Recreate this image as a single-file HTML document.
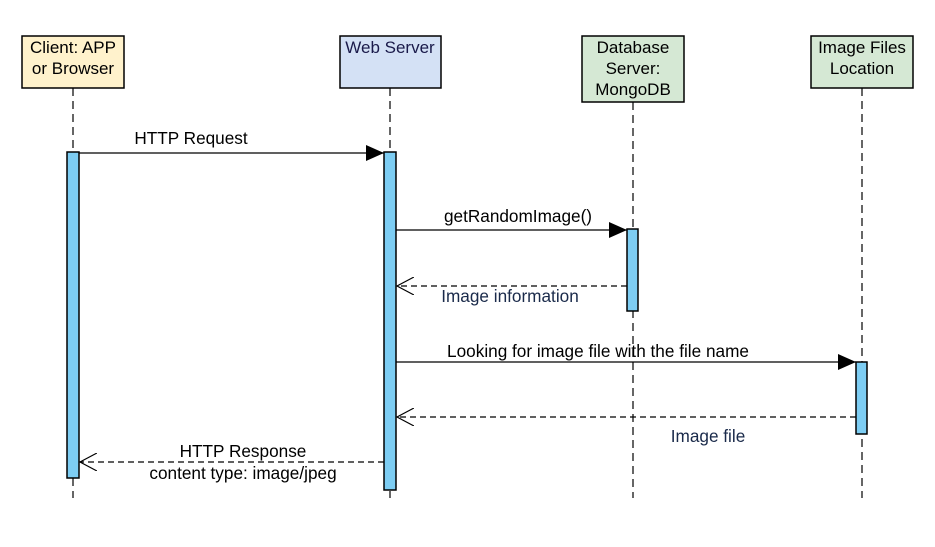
<!DOCTYPE html>
<html><head><meta charset="utf-8"><style>
html,body{margin:0;padding:0;background:#fff;width:935px;height:547px;overflow:hidden}
</style></head><body>
<svg width="935" height="547" xmlns="http://www.w3.org/2000/svg" font-family="Liberation Sans, Arial, sans-serif" font-size="17">
<defs>
<marker id="f" markerWidth="20" markerHeight="16" refX="18" refY="8" orient="auto" markerUnits="userSpaceOnUse"><path d="M0,0 L18,8 L0,16 Z" fill="#000"/></marker>
<marker id="o" markerWidth="20" markerHeight="18" refX="17" refY="9" orient="auto" markerUnits="userSpaceOnUse"><path d="M0,0 L17,9 L0,18" fill="none" stroke="#000" stroke-width="1.2"/></marker>
</defs>
<g stroke="#333" stroke-width="1.5" stroke-dasharray="8,5" fill="none">
<line x1="73" y1="88" x2="73" y2="498"/>
<line x1="390" y1="88" x2="390" y2="498"/>
<line x1="633" y1="102" x2="633" y2="498"/>
<line x1="862" y1="88" x2="862" y2="498"/>
</g>
<g stroke="#000" stroke-width="1.5">
<rect x="22" y="36" width="102" height="52" fill="#fff2cc"/>
<rect x="340" y="36" width="101" height="52" fill="#d4e1f5"/>
<rect x="582" y="36" width="102" height="66" fill="#d5e8d4"/>
<rect x="811" y="36" width="102" height="52" fill="#d5e8d4"/>
</g>
<g text-anchor="middle" fill="#000">
<text x="73" y="53">Client: APP</text><text x="73" y="74">or Browser</text>
<text x="390" y="53" fill="#1a1a4a">Web Server</text>
<text x="633" y="53">Database</text><text x="633" y="74">Server:</text><text x="633" y="95">MongoDB</text>
<text x="862" y="53">Image Files</text><text x="862" y="74">Location</text>
</g>
<g stroke="#000" stroke-width="1.5" fill="#7dcdf3">
<rect x="67" y="152" width="12" height="326"/>
<rect x="384" y="152" width="12" height="338"/>
<rect x="627" y="229" width="11" height="82"/>
<rect x="856" y="362" width="11" height="72"/>
</g>
<g stroke="#000" stroke-width="1.3" fill="none">
<line x1="79" y1="153" x2="384" y2="153" marker-end="url(#f)"/>
<line x1="396" y1="230" x2="627" y2="230" marker-end="url(#f)"/>
<line x1="396" y1="362" x2="856" y2="362" marker-end="url(#f)"/>
<line x1="627" y1="286" x2="397" y2="286" stroke-dasharray="6,4" marker-end="url(#o)"/>
<line x1="856" y1="417" x2="397" y2="417" stroke-dasharray="6,4" marker-end="url(#o)"/>
<line x1="384" y1="462" x2="80" y2="462" stroke-dasharray="6,4" marker-end="url(#o)"/>
</g>
<g text-anchor="middle" fill="#000" font-size="17.2">
<text x="191" y="144">HTTP Request</text>
<text x="518" y="222">getRandomImage()</text>
<text x="510" y="302" fill="#1a2a4a">Image information</text>
<text x="598" y="357">Looking for image file with the file name</text>
<text x="708" y="442" fill="#1a2a4a">Image file</text>
<text x="243" y="457">HTTP Response</text>
<text x="243" y="479">content type: image/jpeg</text>
</g>
</svg>
</body></html>
